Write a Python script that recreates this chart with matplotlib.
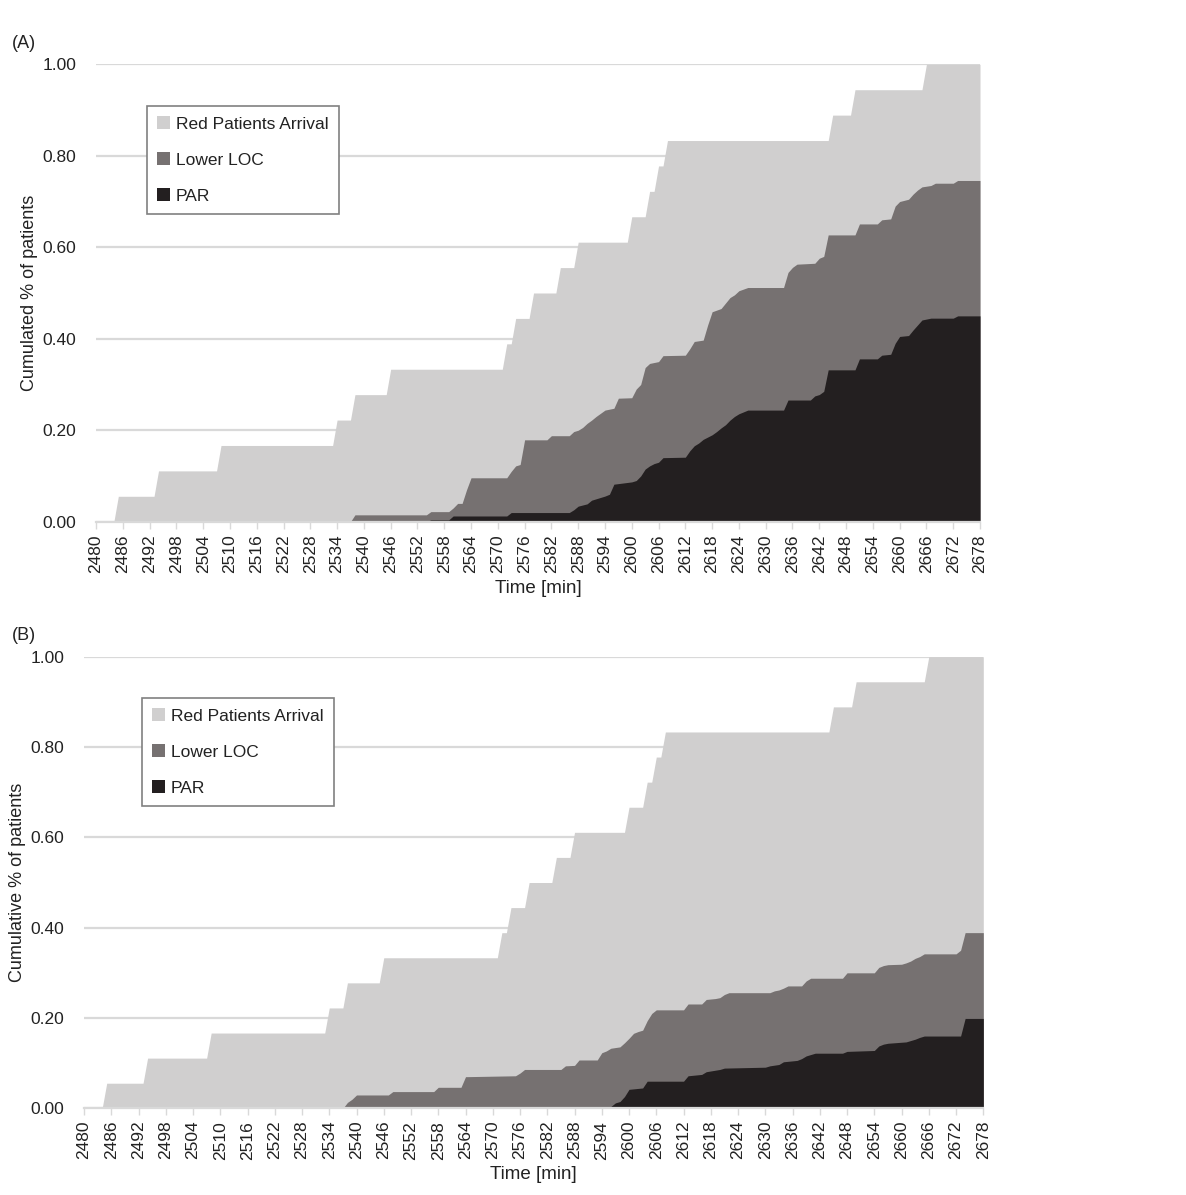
import matplotlib
matplotlib.use("Agg")
import matplotlib.pyplot as plt
from matplotlib.patches import Patch

plt.rcParams['font.family'] = ['Liberation Sans', 'DejaVu Sans']

# time axis (minutes), ticks every 6 min
t_start, t_end = 2480, 2678
tick_times = list(range(2480, 2679, 6))

# Red patients arrival (same in both panels): knots (minute, cumulated share)
red_t = [2480, 2484, 2485, 2493, 2494, 2507, 2508, 2533, 2534, 2537, 2538, 2545, 2546,
         2571, 2572, 2573, 2574, 2577, 2578, 2583, 2584, 2587, 2588, 2599, 2600,
         2603, 2604, 2605, 2606, 2607, 2608, 2644, 2645, 2649, 2650, 2665, 2666, 2678]
red_v = [0, 0, 1/18, 1/18, 2/18, 2/18, 3/18, 3/18, 4/18, 4/18, 5/18, 5/18, 6/18,
         6/18, 7/18, 7/18, 8/18, 8/18, 9/18, 9/18, 10/18, 10/18, 11/18, 11/18, 12/18,
         12/18, 13/18, 13/18, 14/18, 14/18, 15/18, 15/18, 16/18, 16/18, 17/18, 17/18, 1.0, 1.0]

# Panel A - Lower LOC
locA_t = [2480, 2537, 2538, 2554, 2555, 2559, 2560, 2561, 2562, 2563, 2564, 2572, 2573, 2574,
          2575, 2576, 2581, 2582, 2586, 2587, 2588, 2589, 2590, 2591, 2592, 2593, 2594, 2596,
          2597, 2600, 2601, 2602, 2603, 2604, 2606, 2607, 2612, 2613, 2614, 2616, 2617, 2618,
          2620, 2621, 2622, 2623, 2624, 2626, 2634, 2635, 2636, 2637, 2641, 2642, 2643, 2644,
          2650, 2651, 2655, 2656, 2658, 2659, 2660, 2662, 2663, 2664, 2665, 2667, 2668, 2672,
          2673, 2678]
locA_v = [0, 0, 0.015, 0.015, 0.022, 0.022, 0.03, 0.04, 0.04, 0.07, 0.096, 0.096, 0.11, 0.122,
          0.125, 0.179, 0.179, 0.188, 0.188, 0.197, 0.200, 0.206, 0.215, 0.222, 0.23, 0.237, 0.244, 0.248,
          0.270, 0.271, 0.29, 0.30, 0.337, 0.346, 0.35, 0.363, 0.364, 0.378, 0.394, 0.397, 0.43, 0.459,
          0.466, 0.478, 0.49, 0.496, 0.505, 0.512, 0.512, 0.545, 0.556, 0.563, 0.565, 0.576, 0.58, 0.627,
          0.627, 0.651, 0.651, 0.66, 0.662, 0.69, 0.70, 0.705, 0.716, 0.725, 0.732, 0.735, 0.74, 0.74,
          0.746, 0.746]

# Panel A - PAR
parA_t = [2480, 2554, 2555, 2559, 2560, 2572, 2573, 2586, 2587, 2588, 2590, 2591, 2593, 2594,
          2595, 2596, 2600, 2601, 2602, 2603, 2604, 2605, 2606, 2607, 2612, 2613, 2614, 2615,
          2616, 2617, 2618, 2619, 2620, 2621, 2622, 2623, 2624, 2625, 2626, 2634, 2635, 2640,
          2641, 2642, 2643, 2644, 2650, 2651, 2655, 2656, 2658, 2659, 2660, 2662, 2663, 2664,
          2665, 2667, 2672, 2673, 2678]
parA_v = [0, 0, 0.004, 0.004, 0.0125, 0.0125, 0.02, 0.02, 0.026, 0.034, 0.039, 0.047, 0.053, 0.056,
          0.06, 0.082, 0.087, 0.09, 0.1, 0.115, 0.122, 0.127, 0.13, 0.14, 0.141, 0.155, 0.166, 0.172,
          0.18, 0.185, 0.19, 0.197, 0.205, 0.212, 0.222, 0.23, 0.236, 0.24, 0.244, 0.244, 0.266, 0.266,
          0.275, 0.278, 0.285, 0.332, 0.332, 0.356, 0.356, 0.364, 0.366, 0.39, 0.405, 0.407, 0.419, 0.43,
          0.441, 0.445, 0.445, 0.45, 0.45]

# Panel B - Lower LOC
locB_t = [2480, 2537, 2538, 2539, 2540, 2547, 2548, 2557, 2558, 2563, 2564, 2575, 2576, 2577,
          2585, 2586, 2588, 2589, 2593, 2594, 2595, 2596, 2598, 2599, 2600, 2601, 2602, 2603,
          2604, 2605, 2606, 2612, 2613, 2616, 2617, 2619, 2620, 2621, 2622, 2631, 2632, 2633,
          2634, 2635, 2638, 2639, 2640, 2647, 2648, 2654, 2655, 2656, 2657, 2660, 2661, 2662,
          2663, 2664, 2665, 2672, 2673, 2674, 2678]
locB_v = [0, 0, 0.013, 0.02, 0.0295, 0.0295, 0.037, 0.037, 0.0465, 0.0465, 0.07, 0.072, 0.078, 0.086,
          0.086, 0.094, 0.095, 0.107, 0.107, 0.123, 0.127, 0.133, 0.136, 0.145, 0.155, 0.166, 0.17, 0.173,
          0.194, 0.21, 0.218, 0.218, 0.231, 0.231, 0.241, 0.243, 0.245, 0.252, 0.256, 0.256, 0.26, 0.262,
          0.266, 0.271, 0.271, 0.282, 0.288, 0.288, 0.3, 0.3, 0.312, 0.316, 0.318, 0.319, 0.322, 0.326,
          0.332, 0.336, 0.342, 0.342, 0.35, 0.389, 0.389]

# Panel B - PAR
parB_t = [2480, 2588, 2589, 2596, 2597, 2598, 2599, 2600, 2603, 2604, 2612, 2613, 2616, 2617,
          2620, 2621, 2630, 2631, 2633, 2634, 2637, 2638, 2639, 2640, 2641, 2647, 2648, 2654,
          2655, 2656, 2657, 2661, 2662, 2663, 2664, 2665, 2673, 2674, 2678]
parB_v = [0, 0, 0.004, 0.004, 0.012, 0.015, 0.026, 0.042, 0.045, 0.06, 0.06, 0.072, 0.075, 0.081,
          0.086, 0.089, 0.091, 0.094, 0.097, 0.103, 0.106, 0.11, 0.116, 0.119, 0.122, 0.122, 0.126, 0.128,
          0.138, 0.142, 0.144, 0.147, 0.15, 0.153, 0.157, 0.16, 0.16, 0.199, 0.199]

series_names = ['Red Patients Arrival', 'Lower LOC', 'PAR']
colors = ['#d0cfcf', '#767171', '#231f20']

W, H = 1186, 1195
fig = plt.figure(figsize=(W / 100, H / 100), dpi=100)


def make_panel(rect, red, loc, par, ylabel, tag, tag_y, ylabel_x, leg_anchor):
    ax = fig.add_axes(rect)
    ax.set_axisbelow(True)
    ax.yaxis.grid(True, color='#d9d9d9', lw=1.6)
    ax.fill_between(red[0], red[1], color=colors[0], lw=0)
    ax.fill_between(loc[0], loc[1], color=colors[1], lw=0)
    ax.fill_between(par[0], par[1], color=colors[2], lw=0)
    ax.set_xlim(t_start, t_end)
    ax.set_ylim(0, 1)
    ax.set_yticks([0, 0.2, 0.4, 0.6, 0.8, 1.0])
    ax.set_yticklabels(['0.00', '0.20', '0.40', '0.60', '0.80', '1.00'])
    ax.set_xticks(tick_times)
    ax.set_xticklabels([str(t) for t in tick_times], rotation=90)
    ax.tick_params(axis='y', length=0, pad=14, labelsize=12.5, labelcolor='#222222')
    ax.tick_params(axis='x', length=5, width=1, color='#d9d9d9', pad=4,
                   labelsize=12.5, labelcolor='#222222')
    for s in ['top', 'right', 'left']:
        ax.spines[s].set_visible(False)
    ax.spines['bottom'].set_color('#d9d9d9')
    ax.spines['bottom'].set_linewidth(1.6)
    ax.set_xlabel('Time [min]', fontsize=13.5, color='#222222', labelpad=5)
    ax.yaxis.set_label_coords(ylabel_x, 0.5)
    ax.set_ylabel(ylabel, fontsize=13, color='#222222')
    fig.text(12 / W, 1 - tag_y / H, tag, fontsize=13, color='#222222', va='center')
    handles = [Patch(facecolor=c, edgecolor='none') for c in colors]
    leg = ax.legend(handles, series_names, loc='upper left', bbox_to_anchor=leg_anchor,
                    fontsize=12.5, frameon=True, fancybox=False, framealpha=1,
                    edgecolor='#808080', handlelength=0.7, handleheight=0.7,
                    handletextpad=0.35, labelspacing=1.2, borderpad=0.6,
                    borderaxespad=0)
    leg.get_frame().set_linewidth(1.2)
    for txt in leg.get_texts():
        txt.set_color('#222222')
    return ax


# panel A: x 96..980, y 64.3..521.7 (pixels)
make_panel([96 / W, 1 - 521.7 / H, 884 / W, 457.4 / H],
           (red_t, red_v), (locA_t, locA_v), (parA_t, parA_v),
           'Cumulated % of patients', '(A)', 43, -0.066,
           ((147 - 96) / 884, (521.7 - 106) / 457.4))

# panel B: x 84..983.3, y 656.7..1108.3
make_panel([84 / W, 1 - 1108.3 / H, 899.3 / W, 451.6 / H],
           (red_t, red_v), (locB_t, locB_v), (parB_t, parB_v),
           'Cumulative % of patients', '(B)', 636, -0.065,
           ((142 - 84) / 899.3, (1108.3 - 698) / 451.6))

fig.savefig('out.png', dpi=100)
